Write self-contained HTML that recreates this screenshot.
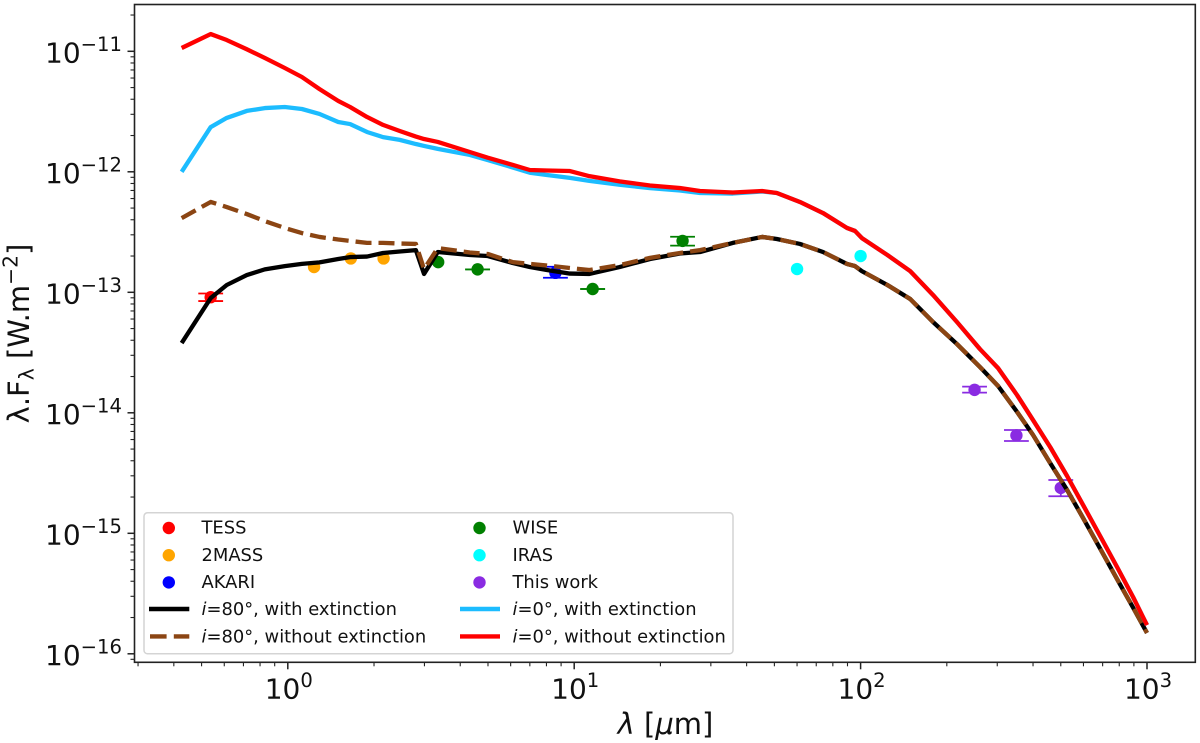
<!DOCTYPE html>
<html lang="en">
<head>
<meta charset="utf-8">
<title>Spectral energy distribution</title>
<style>
html,body{margin:0;padding:0;background:#fff;}
body{width:1200px;height:743px;overflow:hidden;}
svg{display:block;font-family:"DejaVu Sans","Liberation Sans",sans-serif;filter:blur(0.35px);}
.leg{font-size:17.9px;fill:#111;}
</style>
</head>
<body>
<svg id="chart" xmlns="http://www.w3.org/2000/svg" width="1200" height="743" viewBox="0 0 1200 743">
  <rect x="0" y="0" width="1200" height="743" fill="#fff"/>
  <g id="ticks"></g>
  <g id="points"></g>
  <g id="curves"></g>
  <rect x="134.5" y="4.5" width="1060.8" height="657.8" fill="none" stroke="#222" stroke-width="1.6"/>
  <g id="tick-labels"></g>
  <text x="665.5" y="734" text-anchor="middle" font-size="29" fill="#111"><tspan font-style="italic">λ</tspan> [<tspan font-style="italic">μ</tspan>m]</text>
  <text transform="translate(29 333.5) rotate(-90)" text-anchor="middle" font-size="29" fill="#111">λ.F<tspan font-size="20.3" dy="4.5">λ</tspan><tspan dy="-4.5"> [W.m</tspan><tspan font-size="20.3" dy="-11.5">−2</tspan><tspan dy="11.5">]</tspan></text>

  <g>
    <rect x="144" y="512.8" width="589" height="141" rx="3.5" fill="#fff" fill-opacity="0.9" stroke="#d4d4d4" stroke-width="1.5"/>
    <g><circle cx="168.8" cy="528" r="6.2" fill="#ff0000"/><text class="leg" x="201.5" y="533.6">TESS</text></g>
    <g><circle cx="168.8" cy="555.2" r="6.2" fill="#ffa500"/><text class="leg" x="201.5" y="560.8">2MASS</text></g>
    <g><circle cx="168.8" cy="582.4" r="6.2" fill="#0000ff"/><text class="leg" x="201.5" y="588">AKARI</text></g>
    <g><line x1="149" x2="189.3" y1="609" y2="609" stroke="#000" stroke-width="4.4"/><text class="leg" x="201.5" y="615"><tspan font-style="italic">i</tspan>=80°, with extinction</text></g>
    <g><line x1="150" x2="189.3" y1="636.4" y2="636.4" stroke="#8b4513" stroke-width="4.4" stroke-dasharray="16.6 7.2"/><text class="leg" x="201.5" y="642.4"><tspan font-style="italic">i</tspan>=80°, without extinction</text></g>
    <g><circle cx="479.5" cy="528" r="6.2" fill="#008000"/><text class="leg" x="512.5" y="533.6">WISE</text></g>
    <g><circle cx="479.5" cy="555.2" r="6.2" fill="#00ffff"/><text class="leg" x="512.5" y="560.8">IRAS</text></g>
    <g><circle cx="479.5" cy="582.4" r="6.2" fill="#8a2be2"/><text class="leg" x="512.5" y="588">This work</text></g>
    <g><line x1="460" x2="500" y1="609" y2="609" stroke="#1cbcff" stroke-width="4.4"/><text class="leg" x="512.5" y="615"><tspan font-style="italic">i</tspan>=0°, with extinction</text></g>
    <g><line x1="460" x2="500" y1="636.4" y2="636.4" stroke="#ff0000" stroke-width="4.4"/><text class="leg" x="512.5" y="642.4"><tspan font-style="italic">i</tspan>=0°, without extinction</text></g>
  </g>
</svg>
<script>
// ---- Model wavelength grid (micron) ----
const modelLambda = [0.426,0.538,0.612,0.719,0.831,0.976,1.12,1.29,1.50,1.65,1.89,2.15,2.46,2.80,2.99,3.34,4.32,4.99,6.11,7.00,8.03,9.66,11.3,14.4,18.4,23.4,27.5,35.8,45.3,51.0,61.4,73.9,89.6,95.6,101,124,149,179,217,261,302,352,400,459,526,598,686,786,894,1000];

// ---- Model fluxes (W/m2) ----
const fluxI80Ext = [3.79e-14,8.96e-14,1.15e-13,1.39e-13,1.55e-13,1.65e-13,1.72e-13,1.77e-13,1.89e-13,1.96e-13,1.98e-13,2.12e-13,2.18e-13,2.24e-13,1.42e-13,2.16e-13,2.04e-13,2.0e-13,1.75e-13,1.62e-13,1.53e-13,1.43e-13,1.42e-13,1.62e-13,1.89e-13,2.10e-13,2.16e-13,2.57e-13,2.88e-13,2.77e-13,2.52e-13,2.16e-13,1.72e-13,1.65e-13,1.50e-13,1.15e-13,8.8e-14,5.67e-14,3.72e-14,2.40e-14,1.67e-14,1.015e-14,6.55e-15,3.83e-15,2.29e-15,1.34e-15,7.47e-16,4.17e-16,2.42e-16,1.49e-16];
const fluxI80NoExt = [4.13e-13,5.62e-13,5.1e-13,4.46e-13,3.9e-13,3.42e-13,3.10e-13,2.88e-13,2.74e-13,2.67e-13,2.57e-13,2.57e-13,2.54e-13,2.52e-13,1.56e-13,2.33e-13,2.14e-13,2.08e-13,1.78e-13,1.72e-13,1.67e-13,1.59e-13,1.53e-13,1.68e-13,1.93e-13,2.12e-13,2.24e-13,2.57e-13,2.88e-13,2.77e-13,2.52e-13,2.16e-13,1.72e-13,1.65e-13,1.50e-13,1.15e-13,8.8e-14,5.67e-14,3.72e-14,2.40e-14,1.67e-14,1.015e-14,6.55e-15,3.83e-15,2.29e-15,1.34e-15,7.47e-16,4.17e-16,2.42e-16,1.49e-16];
const fluxI0Ext = [1.0e-12,2.35e-12,2.80e-12,3.2e-12,3.38e-12,3.45e-12,3.32e-12,3.02e-12,2.59e-12,2.49e-12,2.14e-12,1.94e-12,1.84e-12,1.70e-12,1.64e-12,1.55e-12,1.38e-12,1.25e-12,1.085e-12,9.83e-13,9.4e-13,8.9e-13,8.4e-13,7.8e-13,7.33e-13,7.0e-13,6.67e-13,6.6e-13,6.86e-13,6.67e-13,5.62e-13,4.55e-13,3.42e-13,3.23e-13,2.82e-13,2.04e-13,1.50e-13,9.5e-14,5.67e-14,3.38e-14,2.35e-14,1.40e-14,8.7e-15,5.2e-15,2.99e-15,1.72e-15,9.5e-16,5.25e-16,2.96e-16,1.73e-16];
const fluxI0NoExt = [1.065e-11,1.39e-11,1.24e-11,1.04e-11,8.8e-12,7.27e-12,6.12e-12,4.86e-12,3.87e-12,3.45e-12,2.85e-12,2.45e-12,2.18e-12,1.96e-12,1.87e-12,1.77e-12,1.46e-12,1.31e-12,1.14e-12,1.035e-12,1.025e-12,1.015e-12,9.2e-13,8.33e-13,7.7e-13,7.33e-13,6.93e-13,6.73e-13,6.93e-13,6.67e-13,5.62e-13,4.55e-13,3.42e-13,3.23e-13,2.82e-13,2.04e-13,1.50e-13,9.5e-14,5.67e-14,3.38e-14,2.35e-14,1.40e-14,8.7e-15,5.2e-15,2.99e-15,1.72e-15,9.5e-16,5.25e-16,2.96e-16,1.73e-16];

// ---- Photometry: wavelength, flux, lower and upper error-bar ends (null = no visible bar) ----
const tessLambda = [0.538];
const tessFlux = [9.1e-14];
const tessLow = [8.46e-14];
const tessHigh = [9.77e-14];

const twomassLambda = [1.235,1.66,2.16];
const twomassFlux = [1.62e-13,1.91e-13,1.91e-13];
const twomassLow = [null,null,null];
const twomassHigh = [null,null,null];

const akariLambda = [8.6];
const akariFlux = [1.45e-13];
const akariLow = [1.32e-13];
const akariHigh = [1.63e-13];

const wiseLambda = [3.35,4.6,11.6,23.9];
const wiseFlux = [1.78e-13,1.55e-13,1.065e-13,2.67e-13];
const wiseLow = [null,1.55e-13,1.065e-13,2.44e-13];
const wiseHigh = [null,1.55e-13,1.065e-13,2.89e-13];

const irasLambda = [60,100];
const irasFlux = [1.56e-13,2.0e-13];
const irasLow = [null,null];
const irasHigh = [null,null];

const thisWorkLambda = [250,350,500];
const thisWorkFlux = [1.55e-14,6.5e-15,2.38e-15];
const thisWorkLow = [1.47e-14,5.83e-15,2.03e-15];
const thisWorkHigh = [1.65e-14,7.2e-15,2.77e-15];

// ---- Tick exponents ----
const xTickExponents = [0,1,2,3];
const yTickExponents = [-11,-12,-13,-14,-15,-16];
const minorMultipliers = [2,3,4,5,6,7,8,9];

// ---- Axis functions ----
const SVGNS = 'http://www.w3.org/2000/svg';
const plotLeft = 134.5, plotRight = 1195.3, plotTop = 4.5, plotBottom = 662.3;
function xScale(lambda){ return 287.8 + 286.4 * Math.log10(lambda); }
function yScale(flux){ return 51.3 + 120.5 * (-11 - Math.log10(flux)); }

function make(tag, parent){
  const el = document.createElementNS(SVGNS, tag);
  parent.appendChild(el);
  return el;
}

// ---- Ticks ----
const tickGroup = document.getElementById('ticks');
const labelGroup = document.getElementById('tick-labels');

function xTick(value, length, width){
  const px = xScale(value);
  if (px < plotLeft || px > plotRight) return;
  const el = make('line', tickGroup);
  
  
  el.setAttribute('x1', px); el.setAttribute('x2', px);
  el.setAttribute('y1', plotBottom); el.setAttribute('y2', plotBottom + length);
  el.setAttribute('stroke', '#222'); el.setAttribute('stroke-width', width);
}
function yTick(value, length, width){
  const py = yScale(value);
  if (py < plotTop || py > plotBottom) return;
  const el = make('line', tickGroup);
  
  
  el.setAttribute('y1', py); el.setAttribute('y2', py);
  el.setAttribute('x1', plotLeft); el.setAttribute('x2', plotLeft - length);
  el.setAttribute('stroke', '#222'); el.setAttribute('stroke-width', width);
}
function powerLabel(exp, x, y, anchor, name){
  const t = make('text', labelGroup);
  
  
  t.setAttribute('x', x); t.setAttribute('y', y);
  t.setAttribute('text-anchor', anchor);
  t.setAttribute('font-size', '28');
  t.setAttribute('fill', '#111');
  t.appendChild(document.createTextNode('10'));
  const s = make('tspan', t);
  s.setAttribute('font-size', '19.6');
  s.setAttribute('dy', '-11.5');
  s.textContent = String(exp).replace('-', '\u2212');
}

for (let e = -1; e <= 3; e++) {
  minorMultipliers.forEach(function(m){ xTick(m * Math.pow(10, e), 4, 1.1); });
}
xTickExponents.forEach(function(e){
  xTick(Math.pow(10, e), 7, 1.5);
  powerLabel(e, xScale(Math.pow(10, e)) + 1, 698.3, 'middle', 'x-tick-label');
});
for (let e = -17; e <= -11; e++) {
  minorMultipliers.forEach(function(m){ yTick(m * Math.pow(10, e), 4, 1.1); });
}
yTickExponents.forEach(function(e){
  yTick(Math.pow(10, e), 7, 1.5);
  powerLabel(e, 122, yScale(Math.pow(10, e)) + 11.2, 'end', 'y-tick-label');
});

// ---- Photometry points ----
const pointGroup = document.getElementById('points');
const capHalfWidth = 12.4;

function drawSurvey(lambdas, fluxes, lows, highs, color, name){
  lambdas.forEach(function(lambda, i){
    const px = xScale(lambda);
    if (lows[i] !== null) {
      const yLow = yScale(lows[i]), yHigh = yScale(highs[i]);
      [yLow, yHigh].forEach(function(py){
        const cap = make('line', pointGroup);
        
        
        cap.setAttribute('x1', px - capHalfWidth); cap.setAttribute('x2', px + capHalfWidth);
        cap.setAttribute('y1', py); cap.setAttribute('y2', py);
        cap.setAttribute('stroke', color); cap.setAttribute('stroke-width', 1.8);
      });
      const stem = make('line', pointGroup);
      
      
      stem.setAttribute('x1', px); stem.setAttribute('x2', px);
      stem.setAttribute('y1', yLow); stem.setAttribute('y2', yHigh);
      stem.setAttribute('stroke', color); stem.setAttribute('stroke-width', 1.8);
    }
    const dot = make('circle', pointGroup);
    
    
    dot.setAttribute('cx', px); dot.setAttribute('cy', yScale(fluxes[i]));
    dot.setAttribute('r', 6.2);
    dot.setAttribute('fill', color);
  });
}
drawSurvey(tessLambda, tessFlux, tessLow, tessHigh, '#ff0000', 'tess');
drawSurvey(twomassLambda, twomassFlux, twomassLow, twomassHigh, '#ffa500', '2mass');
drawSurvey(akariLambda, akariFlux, akariLow, akariHigh, '#0000ff', 'akari');
drawSurvey(wiseLambda, wiseFlux, wiseLow, wiseHigh, '#008000', 'wise');
drawSurvey(irasLambda, irasFlux, irasLow, irasHigh, '#00ffff', 'iras');
drawSurvey(thisWorkLambda, thisWorkFlux, thisWorkLow, thisWorkHigh, '#8a2be2', 'this-work');

// ---- Model curves ----
const curveGroup = document.getElementById('curves');
function drawCurve(values, color, dash, name){
  const el = make('polyline', curveGroup);
  
  
  const pts = values.map(function(v, i){
    return xScale(modelLambda[i]).toFixed(2) + ',' + yScale(v).toFixed(2);
  });
  el.setAttribute('points', pts.join(' '));
  el.setAttribute('fill', 'none');
  el.setAttribute('stroke', color);
  el.setAttribute('stroke-width', 4.3);
  el.setAttribute('stroke-linejoin', 'round');
  if (dash) el.setAttribute('stroke-dasharray', dash);
}
drawCurve(fluxI80Ext, '#000000', null, 'curve-i80-with-extinction');
drawCurve(fluxI80NoExt, '#8b4513', '16 7', 'curve-i80-without-extinction');
drawCurve(fluxI0Ext, '#1cbcff', null, 'curve-i0-with-extinction');
drawCurve(fluxI0NoExt, '#ff0000', null, 'curve-i0-without-extinction');
</script>
</body>
</html>
